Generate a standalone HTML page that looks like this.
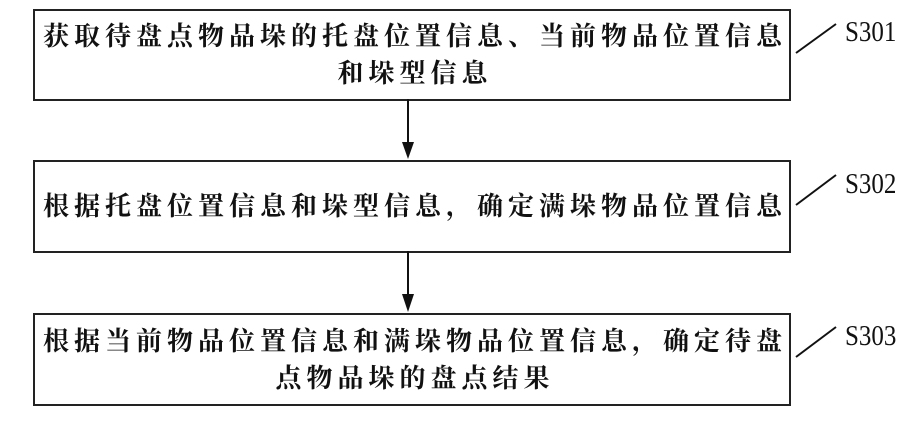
<!DOCTYPE html>
<html><head><meta charset="utf-8"><style>
body{margin:0;width:923px;height:426px;background:#fff;overflow:hidden;position:relative}
.box{position:absolute;left:33px;width:754px;border:2px solid #222;box-sizing:content-box;display:flex;align-items:center;justify-content:center;text-align:center;font-family:"Liberation Serif","Noto Serif CJK SC",serif;font-size:26px;line-height:37px;color:#111;letter-spacing:5px;font-weight:bold}
.lab{position:absolute;font-family:"Liberation Serif",serif;font-size:25px;color:#111;transform:scaleY(1.15)}
</style></head><body>
<div class="box" style="top:9px;height:88px"><div style="margin-left:6px">获取待盘点物品垛的托盘位置信息、当前物品位置信息<br>和垛型信息</div></div>
<div class="box" style="top:160px;height:89px"><div style="margin-left:6px">根据托盘位置信息和垛型信息，确定满垛物品位置信息</div></div>
<div class="box" style="top:313px;height:89px"><div style="margin-left:6px">根据当前物品位置信息和满垛物品位置信息，确定待盘<br>点物品垛的盘点结果</div></div>
<div class="lab" style="left:845px;top:19px">S301</div>
<div class="lab" style="left:845px;top:171px">S302</div>
<div class="lab" style="left:845px;top:323px">S303</div>
<svg width="923" height="426" style="position:absolute;left:0;top:0">
<g stroke="#111" stroke-width="2">
<line x1="796" y1="53" x2="836" y2="24"/>
<line x1="796" y1="205" x2="836" y2="175"/>
<line x1="796" y1="357" x2="836" y2="327"/>
<line x1="408" y1="99" x2="408" y2="145"/>
<line x1="408" y1="251" x2="408" y2="297"/>
</g>
<polygon points="402,142 414,142 408,159" fill="#111"/>
<polygon points="402,294 414,294 408,312" fill="#111"/>
</svg>
</body></html>
